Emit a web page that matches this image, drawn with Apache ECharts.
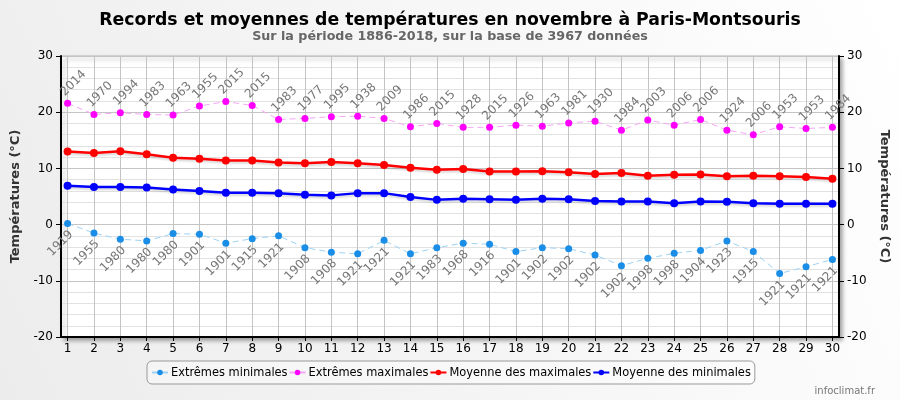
<!DOCTYPE html>
<html>
<head>
<meta charset="utf-8">
<script src="https://cdn.jsdelivr.net/npm/echarts@6/dist/echarts.min.js"></script>
<style>html,body{margin:0;padding:0;}#c{width:900px;height:400px;}</style>
</head>
<body>
<div id="c"></div>
<script>
const days = [1,2,3,4,5,6,7,8,9,10,11,12,13,14,15,16,17,18,19,20,21,22,23,24,25,26,27,28,29,30];
const extMin = [0.2,-1.5,-2.6,-2.9,-1.6,-1.7,-3.3,-2.5,-2.0,-4.1,-4.9,-5.2,-2.8,-5.2,-4.1,-3.3,-3.5,-4.8,-4.1,-4.3,-5.4,-7.3,-6.0,-5.1,-4.6,-2.9,-4.8,-8.7,-7.5,-6.2];
const extMinYears = ['1919','1955','1980','1980','1980','1901','1901','1915','1921','1908','1908','1921','1921','1921','1983','1968','1916','1901','1902','1902','1902','1902','1998','1998','1904','1923','1915','1921','1921','1921'];
const extMax = [21.6,19.6,19.9,19.6,19.5,21.1,21.9,21.2,18.7,18.9,19.2,19.3,18.9,17.4,18.0,17.3,17.3,17.7,17.5,18.1,18.4,16.8,18.6,17.7,18.7,16.8,16.0,17.4,17.1,17.3];
const extMaxYears = ['2014','1970','1994','1983','1963','1955','2015','2015','1983','1977','1995','1938','2009','1986','2015','1928','2015','1926','1963','1981','1930','1984','2003','2006','2006','1924','2006','1953','1953','1984'];
const meanMax = [13.0,12.75,13.05,12.5,11.9,11.7,11.4,11.4,11.05,10.9,11.15,10.9,10.6,10.1,9.75,9.9,9.45,9.45,9.5,9.3,9.0,9.2,8.7,8.85,8.9,8.6,8.7,8.6,8.45,8.15];
const meanMin = [6.9,6.7,6.7,6.6,6.25,6.0,5.65,5.65,5.6,5.3,5.2,5.6,5.6,4.9,4.4,4.6,4.5,4.4,4.6,4.5,4.2,4.1,4.1,3.8,4.1,4.05,3.8,3.7,3.7,3.7];
const yTicks = [-20,-10,0,10,20,30];

const FONT = 'DejaVu Sans';
const pairs = (vals) => days.map((d, i) => [d, vals[i]]);

const chart = echarts.init(document.getElementById('c'), null, {renderer: 'canvas'});
const yAxisBase = {
  type: 'value', min: yTicks[0], max: yTicks[yTicks.length - 1], interval: 10,
  name: 'Températures (°C)', nameLocation: 'middle',
  nameTextStyle: {fontFamily: FONT, fontWeight: 'bold', fontSize: 13, color: '#333'},
  axisLine: {show: true, lineStyle: {color: '#000', width: 2}},
  axisTick: {show: true, length: 5, lineStyle: {color: '#000'}},
  axisLabel: {fontFamily: FONT, fontSize: 12, color: '#000', margin: 8},
  minorTick: {show: false, splitNumber: 5},
};
chart.setOption({
  backgroundColor: new echarts.graphic.LinearGradient(1, 0, 0, 1, [
    {offset: 0, color: '#ffffff'}, {offset: 1, color: '#ececec'}]),
  animation: false,
  title: {
    text: 'Records et moyennes de températures en novembre à Paris-Montsouris',
    subtext: 'Sur la période 1886-2018, sur la base de 3967 données',
    left: 'center', top: 7, itemGap: 1,
    textStyle: {fontFamily: FONT, fontWeight: 'bold', fontSize: 17.3, color: '#000'},
    subtextStyle: {fontFamily: FONT, fontWeight: 'bold', fontSize: 12.7, color: '#666'}
  },
  grid: {
    left: 61, right: 61, top: 56, bottom: 63, show: true,
    backgroundColor: '#fff', borderColor: '#bbb', borderWidth: 1,
    shadowColor: 'rgba(0,0,0,0.35)', shadowBlur: 4, shadowOffsetX: 3, shadowOffsetY: 3
  },
  legend: {
    left: 147, top: 361, itemGap: 1, itemWidth: 16, itemHeight: 7,
    borderColor: '#999', borderWidth: 1, borderRadius: 5, padding: [5, 4],
    backgroundColor: 'rgba(255,255,255,0.4)',
    textStyle: {fontFamily: 'DejaVu Sans Condensed, DejaVu Sans', fontSize: 12.7, color: '#000', padding: [0, 0, 0, -2]},
    data: ['Extrêmes minimales', 'Extrêmes maximales', 'Moyenne des maximales', 'Moyenne des minimales']
  },
  xAxis: {
    type: 'value', min: 0.75, max: 30.25,
    axisLine: {show: true, onZero: false, lineStyle: {color: '#000', width: 2}},
    axisTick: {show: true, length: 4, customValues: days, lineStyle: {color: '#000'}},
    axisLabel: {customValues: days, fontFamily: FONT, fontSize: 12, color: '#000', margin: 6},
    splitLine: {show: true, lineStyle: {color: '#c4c4c4', width: 1}}
  },
  yAxis: [
    Object.assign({}, yAxisBase, {
      position: 'left', nameGap: 34, nameRotate: 90,
      splitLine: {show: true, lineStyle: {color: '#c4c4c4', width: 1}},
      minorTick: {show: false, splitNumber: 5},
      minorSplitLine: {show: true, lineStyle: {color: '#e2e2e2', width: 1}}
    }),
    Object.assign({}, yAxisBase, {
      position: 'right', nameGap: 31, nameRotate: -90,
      splitLine: {show: false}
    })
  ],
  series: [
    {
      name: 'Extrêmes minimales', type: 'line', data: pairs(extMin),
      symbol: 'circle', symbolSize: 7, z: 3,
      itemStyle: {color: '#1a8ee6'},
      lineStyle: {color: '#9dd3f5', width: 1, type: [6, 4]},
      label: {
        show: true, position: 'inside', rotate: 45, align: 'right', verticalAlign: 'top',
        offset: [-4, 3], fontFamily: FONT, fontSize: 12, color: '#777',
        formatter: (p) => extMinYears[p.dataIndex]
      }
    },
    {
      name: 'Extrêmes maximales', type: 'line', data: pairs(extMax),
      symbol: 'circle', symbolSize: 7, z: 3,
      itemStyle: {color: '#ff00ff'},
      lineStyle: {color: '#f7a6f7', width: 1, type: [6, 4]},
      label: {
        show: true, position: 'inside', rotate: 45, align: 'left', verticalAlign: 'bottom',
        offset: [3, -4], fontFamily: FONT, fontSize: 12, color: '#777',
        formatter: (p) => extMaxYears[p.dataIndex]
      }
    },
    {
      name: 'Moyenne des maximales', type: 'line', data: pairs(meanMax),
      symbol: 'circle', symbolSize: 8, z: 4,
      itemStyle: {color: '#ff0000'},
      lineStyle: {color: '#ff0000', width: 2.5, shadowColor: 'rgba(0,0,0,0.15)', shadowBlur: 2, shadowOffsetY: 2}
    },
    {
      name: 'Moyenne des minimales', type: 'line', data: pairs(meanMin),
      symbol: 'circle', symbolSize: 8, z: 4,
      itemStyle: {color: '#0000ff'},
      lineStyle: {color: '#0000ff', width: 2.5, shadowColor: 'rgba(0,0,0,0.15)', shadowBlur: 2, shadowOffsetY: 2}
    }
  ],
  graphic: [{
    type: 'text', right: 25, bottom: 4,
    style: {text: 'infoclimat.fr', fontFamily: FONT, fontSize: 10, fill: '#777'}
  }]
});
</script>
</body>
</html>
